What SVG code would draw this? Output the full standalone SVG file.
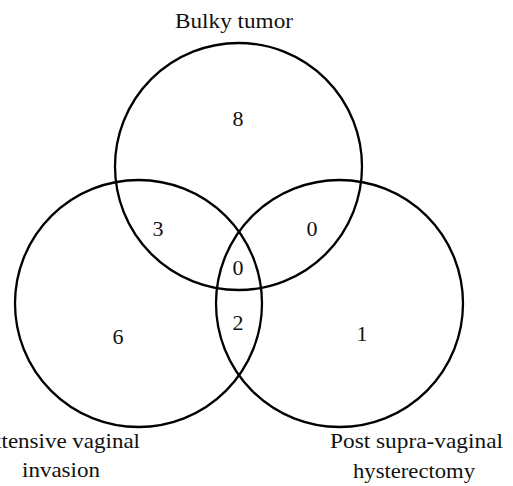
<svg xmlns="http://www.w3.org/2000/svg" width="513" height="486" viewBox="0 0 513 486">
<style>
.c{fill:none;stroke:#000;stroke-width:2.3}
.t{font-family:"Liberation Serif","Times New Roman",serif;font-size:22px;fill:#111;text-anchor:middle}
.n{font-family:"Liberation Serif","Times New Roman",serif;font-size:22px;fill:#111;text-anchor:middle}
</style>
<rect width="513" height="486" fill="#fff"/>
<g id="connectors"></g>
<g id="bulky">
<circle class="c" cx="238.5" cy="166.5" r="123.5"/>
<text class="t" x="234" y="28" textLength="118" lengthAdjust="spacingAndGlyphs">Bulky tumor</text>
</g>
<g id="vaginal">
<circle class="c" cx="138.5" cy="303.5" r="123.5"/>
<text class="t" x="58" y="448" textLength="164" lengthAdjust="spacingAndGlyphs">Extensive vaginal</text>
<text class="t" x="61" y="477" textLength="78" lengthAdjust="spacingAndGlyphs">invasion</text>
</g>
<g id="hysterectomy">
<circle class="c" cx="339.5" cy="303.5" r="123.5"/>
<text class="t" x="416.5" y="448" textLength="173" lengthAdjust="spacingAndGlyphs">Post supra-vaginal</text>
<text class="t" x="414" y="478" textLength="122" lengthAdjust="spacingAndGlyphs">hysterectomy</text>
</g>
<g id="counts">
<text class="n" x="238" y="126">8</text>
<text class="n" x="158" y="236">3</text>
<text class="n" x="312" y="236">0</text>
<text class="n" x="238" y="275">0</text>
<text class="n" x="238" y="330">2</text>
<text class="n" x="118" y="344">6</text>
<text class="n" x="362" y="341">1</text>
</g>
</svg>
